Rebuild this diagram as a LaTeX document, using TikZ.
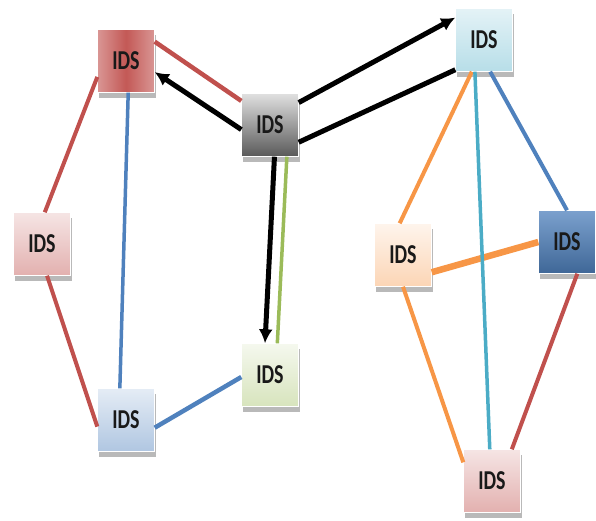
\documentclass[tikz,border=0pt]{standalone}
\usepackage{fontspec}
\setsansfont{Carlito}
\usepackage{xcolor}
\usepackage{graphicx}
\usepackage{tikz}
\usetikzlibrary{arrows.meta,shadows}

\definecolor{linered}{HTML}{C0504D}
\definecolor{lineblue}{HTML}{4F81BD}
\definecolor{lineorange}{HTML}{F79646}
\definecolor{linecyan}{HTML}{4BACC6}
\definecolor{linegreen}{HTML}{9BBB59}

\newcommand{\idslabel}{\scalebox{0.95}[1.3]{IDS}}

\begin{document}
\begin{tikzpicture}[x=1pt, y=-1pt, every node/.style={
    rectangle,
    draw=white,
    minimum height=63pt,
    minimum width=57pt,
    text=black!90,
    font=\sffamily\bfseries\fontsize{21}{21}\selectfont,
    drop shadow={shadow xshift=1pt, shadow yshift=-5pt, opacity=0.55},
  }, >={Latex[length=14pt,width=14pt]}, line cap=butt]

  \useasboundingbox (0,0) rectangle (596,520);

  \node[top color=black!12, bottom color=black!65] (n0) at (270,125) {\idslabel};
  \node[left color=linered!60, right color=linered!60, middle color=linered!95] (n1) at (126,61) {\idslabel};
  \node[top color=linecyan!15, bottom color=linecyan!40] (n2) at (484,40) {\idslabel};
  \node[top color=linered!15, bottom color=linered!45] (n3) at (42,244) {\idslabel};
  \node[top color=lineorange!10, bottom color=lineorange!40] (n4) at (403,255) {\idslabel};
  \node[top color=lineblue!75, bottom color=lineblue!80!black] (n5) at (567,242) {\idslabel};
  \node[top color=linegreen!10, bottom color=linegreen!40] (n6) at (270,375) {\idslabel};
  \node[top color=lineblue!15, bottom color=lineblue!45] (n7) at (126,420) {\idslabel};
  \node[top color=linered!15, bottom color=linered!45] (n8) at (492,481) {\idslabel};

  % left ring
  \draw[linered, line width=4.5pt] (n1.34) -- (n0.140);
  \draw[linered, line width=4pt] (n1.209) -- (n3.85);
  \draw[linered, line width=4pt] (n3.-81) -- (n7.193);
  \draw[lineblue, line width=3.5pt] (n1.-86) -- (n7.101);
  \draw[lineblue, line width=4.5pt] (n7.-15) -- (n6.184);
  \draw[linegreen, line width=3.5pt] (n0.-62) -- (n6.77);

  % right ring
  \draw[lineorange, line width=4pt] (n2.-111) -- (n4.96);
  \draw[lineblue, line width=4pt] (n2.-79) -- (n5.north);
  \draw[lineorange, line width=6.5pt] (n4.-31) -- (n5.west);
  \draw[linecyan, line width=3.5pt] (n2.-106) -- (n8.94);
  \draw[lineorange, line width=4pt] (n4.south) -- (n8.147);
  \draw[linered, line width=4pt] (n5.-72) -- (n8.58);

  \draw[line width=5pt] (n0.-31) -- (n2.226);
  \path[->, line width=5pt] (n0.189) edge (n1.-21);
  \path[->, line width=5pt] (n0.-82) edge (n6.99);
  \path[->, line width=5pt] (n0.38) edge (n2.142);

\end{tikzpicture}
\end{document}
